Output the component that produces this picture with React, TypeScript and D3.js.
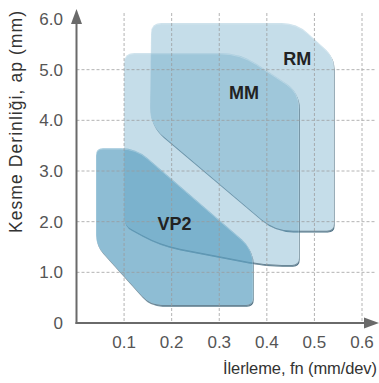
import React from "react";
import * as d3 from "d3";

// ---- data ----
const fnTicks = [0.1, 0.2, 0.3, 0.4, 0.5, 0.6];
const fnTickLabels = ["0.1", "0.2", "0.3", "0.4", "0.5", "0.6"];
const apTicks = [0, 1, 2, 3, 4, 5, 6];
const apTickLabels = ["0", "1.0", "2.0", "3.0", "4.0", "5.0", "6.0"];
const apGrid = [1, 2, 3, 4, 5];

const regionNames = ["RM", "MM", "VP2"];
// outlines in (fn, ap)
const rmOutline: [number, number][] = [
  [0.157, 5.92], [0.463, 5.92], [0.541, 5.25], [0.541, 1.82], [0.417, 1.82], [0.154, 3.91],
];
const mmOutline: [number, number][] = [
  [0.1, 5.33], [0.3436, 5.33], [0.4676, 4.56], [0.4676, 1.145], [0.396, 1.145], [0.1755, 1.54], [0.1, 1.93],
];
const vp2Outline: [number, number][] = [
  [0.041, 3.45], [0.125, 3.45], [0.371, 1.46], [0.371, 0.355], [0.1545, 0.355], [0.041, 1.54],
];
const regionLabelPos: [number, number][] = [
  [0.464, 5.1], [0.352, 4.42], [0.206, 1.83],
];

// ---- styles ----
const rmRadii = [10, 15, 11, 7, 18, 18];
const mmRadii = [10, 20, 15, 7, 20, 25, 8];
const vp2Radii = [7, 15, 15, 7, 12, 10];
const fillAlpha = [0.35, 0.35, 0.68];

const W = 379, H = 383;
const x = d3.scaleLinear().domain([0, 0.6]).range([76.5, 362]);
const y = d3.scaleLinear().domain([0, 6]).range([323, 19]);

function roundedPath(pts: [number, number][], radii: number[]) {
  const n = pts.length;
  let d = "";
  for (let i = 0; i < n; i++) {
    const prev = pts[(i - 1 + n) % n], cur = pts[i], next = pts[(i + 1) % n];
    const v1x = prev[0] - cur[0], v1y = prev[1] - cur[1];
    const v2x = next[0] - cur[0], v2y = next[1] - cur[1];
    const l1 = Math.hypot(v1x, v1y), l2 = Math.hypot(v2x, v2y);
    const r = Math.min(radii[i], l1 / 2, l2 / 2);
    const p1 = [cur[0] + (v1x / l1) * r, cur[1] + (v1y / l1) * r];
    const p2 = [cur[0] + (v2x / l2) * r, cur[1] + (v2y / l2) * r];
    d += (i === 0 ? "M" : "L") + p1[0].toFixed(2) + "," + p1[1].toFixed(2);
    d += "Q" + cur[0].toFixed(2) + "," + cur[1].toFixed(2) + " " + p2[0].toFixed(2) + "," + p2[1].toFixed(2);
  }
  return d + "Z";
}

const toPx = (o: [number, number][]) => o.map(([f, a]) => [x(f), y(a)] as [number, number]);

export default function App() {
  const outlines = [rmOutline, mmOutline, vp2Outline];
  const radii = [rmRadii, mmRadii, vp2Radii];
  const paths = outlines.map((o, i) => roundedPath(toPx(o), radii[i]));
  const font = "'Liberation Sans', Arial, sans-serif";
  return (
    <svg width={W} height={H} style={{ position: "absolute", left: 0, top: 0 }}>
      <defs>
        <filter id="soft" x="-10%" y="-10%" width="120%" height="120%">
          <feGaussianBlur stdDeviation="0.6" />
        </filter>
        {paths.map((p, i) => (
          <mask id={"m" + i} key={i} maskUnits="userSpaceOnUse" x={0} y={0} width={W} height={H}>
            <rect x={0} y={0} width={W} height={H} fill="white" />
            <path d={p} fill="black" />
          </mask>
        ))}
      </defs>
      <rect width={W} height={H} fill="#fff" />
      {paths.map((p, i) => (
        <g key={i}>
          <path d={p} fill="#599ec0" fillOpacity={fillAlpha[i]} />
          <g mask={`url(#m${i})`}>
            <path d={p} transform="translate(0.7,1.7)" fill="#1d4a62" opacity={0.8} filter="url(#soft)" />
          </g>
          <path d={p} fill="none" stroke="#ffffff" strokeOpacity={0.25} strokeWidth={1} transform="translate(0,0.8)" />
        </g>
      ))}
      {/* grid */}
      <g stroke="#9a9a9a" strokeWidth={1} strokeDasharray="3,2" opacity={0.75}>
        {fnTicks.map((t, i) => (
          <line key={"v" + i} x1={x(t)} x2={x(t)} y1={13} y2={y(0)} />
        ))}
        {apGrid.map((t, i) => (
          <line key={"h" + i} x1={x(0)} x2={375} y1={y(t)} y2={y(t)} />
        ))}
      </g>
      {/* axes */}
      <g stroke="#6a6a6a" strokeWidth={2}>
        <line x1={x(0)} x2={x(0)} y1={y(0) + 1} y2={20} />
        <line x1={x(0) - 1} x2={366} y1={y(0)} y2={y(0)} />
      </g>
      <path d={`M${x(0)},9 L${x(0) - 5.5},24 L${x(0) + 5.5},24 Z`} fill="#6a6a6a" />
      <path d={`M379,${y(0)} L364,${y(0) - 5.5} L364,${y(0) + 5.5} Z`} fill="#6a6a6a" />
      {/* tick labels */}
      <g fontFamily={font} fontSize={17} fill="#555">
        {fnTicks.map((t, i) => (
          <text key={"xt" + i} x={x(t)} y={348} textAnchor="middle">{fnTickLabels[i]}</text>
        ))}
        {apTicks.map((t, i) => (
          <text key={"yt" + i} x={63} y={y(t) + 6} textAnchor="end">{apTickLabels[i]}</text>
        ))}
      </g>
      {/* axis titles */}
      <text fontFamily={font} fontSize={16.5} fill="#333" x={377} y={374} textAnchor="end" textLength={154} lengthAdjust="spacing">İlerleme, fn (mm/dev)</text>
      <text fontFamily={font} fontSize={17.5} fill="#333" transform="translate(22,233) rotate(-90)" x={0} y={0} textLength={222} lengthAdjust="spacing">Kesme Derinliği, ap (mm)</text>
      {/* region labels */}
      <g fontFamily={font} fontSize={18} fontWeight="bold" fill="#222" textAnchor="middle">
        {regionNames.map((n, i) => (
          <text key={n} x={x(regionLabelPos[i][0])} y={y(regionLabelPos[i][1])}>{n}</text>
        ))}
      </g>
    </svg>
  );
}
